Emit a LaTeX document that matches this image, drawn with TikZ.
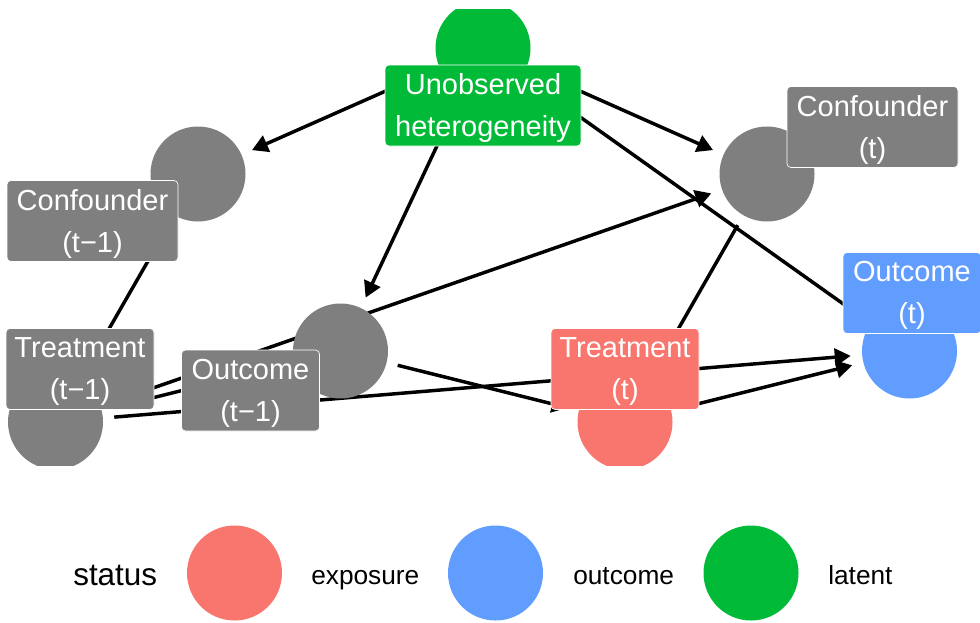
\documentclass[tikz,border=0pt]{standalone}
\usepackage{fontspec}
\setmainfont{Liberation Sans}
\usetikzlibrary{arrows.meta}
\definecolor{cgreen}{HTML}{00BA38}
\definecolor{cpink}{HTML}{F8766D}
\definecolor{cblue}{HTML}{619CFF}
\definecolor{cgray}{HTML}{7F7F7F}
\begin{document}
\begin{tikzpicture}[x=0.75pt,y=-0.75pt,
  dot/.style={circle, minimum size=71.25pt, inner sep=0pt, outer sep=8.6pt},
  edge/.style={line width=2.6pt, -{Triangle[length=12pt,width=13pt]}},
  lbl/.style={rectangle, rounded corners=3pt, draw=white, line width=0.5pt, inner sep=0pt, minimum height=60.75pt},
  lbltext/.style={text=white, align=center, inner sep=0pt, font=\fontsize{21.75}{31.5}\selectfont},
  legdot/.style={circle, minimum size=71.25pt, inner sep=0pt},
  legtitle/.style={anchor=base west, inner sep=0pt, font=\fontsize{23.6}{28}\selectfont},
  legtext/.style={anchor=base west, inner sep=0pt, font=\fontsize{19.7}{24}\selectfont}]
\useasboundingbox (0,0) rectangle (980,622);
\begin{scope}
\clip (0,9) rectangle (980,465);
% node positions
\node[dot] (U)  at (483,48) {};
\node[dot] (C1) at (198,174) {};
\node[dot] (C2) at (767,174) {};
\node[dot] (T1) at (55.5,422) {};
\node[dot] (T2) at (625,422) {};
\node[dot] (O1) at (340.5,351) {};
\node[dot] (O2) at (909.5,351) {};
% edges
\draw[edge] (U) -- (C1);
\draw[edge] (U) -- (C2);
\draw[edge] (U) -- (O1);
\draw[edge] (U) -- (O2);
\draw[edge] (C1) -- (T1);
\draw[edge] (C2) -- (T2);
\draw[edge] (T1) -- (C2);
\draw[edge] (T1) -- (O1);
\draw[edge] (T1) -- (O2);
\draw[edge] (O1) -- (T2);
\draw[edge] (T2) -- (O2);
% circles
\fill[cgreen] (U.center) circle[radius=35.625pt];
\fill[cgray] (C1.center) circle[radius=35.625pt];
\fill[cgray] (C2.center) circle[radius=35.625pt];
\fill[cgray] (T1.center) circle[radius=35.625pt];
\fill[cpink] (T2.center) circle[radius=35.625pt];
\fill[cgray] (O1.center) circle[radius=35.625pt];
\fill[cblue] (O2.center) circle[radius=35.625pt];
% label boxes
\node[lbl, fill=cgreen, minimum width=147pt] (bU) at (483,105.5) {};
\node[lbltext] (tU) at ([yshift=-2.1pt]bU.center) {Unobserved\\heterogeneity};
\node[lbl, fill=cgray, minimum width=128.25pt] (bC1) at (92.5,221) {};
\node[lbltext] (tC1) at ([yshift=-2.1pt]bC1.center) {Confounder\\(t−1)};
\node[lbl, fill=cgray, minimum width=128.25pt] (bC2) at (872.5,127) {};
\node[lbltext] (tC2) at ([yshift=-2.1pt]bC2.center) {Confounder\\(t)};
\node[lbl, fill=cgray, minimum width=111pt] (bT1) at (80,369) {};
\node[lbltext] (tT1) at ([yshift=-2.1pt]bT1.center) {Treatment\\(t−1)};
\node[lbl, fill=cgray, minimum width=103.5pt] (bO1) at (250.5,390.5) {};
\node[lbltext] (tO1) at ([yshift=-2.1pt]bO1.center) {Outcome\\(t−1)};
\node[lbl, fill=cpink, minimum width=111pt] (bT2) at (625,369) {};
\node[lbltext] (tT2) at ([yshift=-2.1pt]bT2.center) {Treatment\\(t)};
\node[lbl, fill=cblue, minimum width=103.5pt] (bO2) at (912,293) {};
\node[lbltext] (tO2) at ([yshift=-2.1pt]bO2.center) {Outcome\\(t)};
\end{scope}
% legend
\node[legtitle] (Ltitle) at (73,585) {status};
\node[legdot, fill=cpink] (Lexp) at (234.5,573) {};
\node[legtext] (Texp) at (311,584) {exposure};
\node[legdot, fill=cblue] (Lout) at (495.5,573) {};
\node[legtext] (Tout) at (573,584) {outcome};
\node[legdot, fill=cgreen] (Llat) at (751,573) {};
\node[legtext] (Tlat) at (828,584) {latent};
\end{tikzpicture}
\end{document}
